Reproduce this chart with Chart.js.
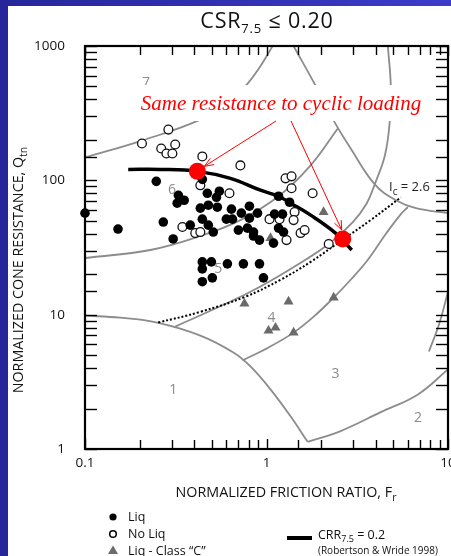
<!DOCTYPE html>
<html><head><meta charset="utf-8">
<script src="https://cdn.jsdelivr.net/npm/chart.js@4.4.1/dist/chart.umd.min.js"></script>
<style>html,body{margin:0;padding:0;background:#2f2fae;overflow:hidden}canvas{display:block}</style>
</head><body>
<canvas id="c" width="451" height="556"></canvas>
<script>
// ---------- DATA ----------
const xTickValues = [0.1, 1, 10];
const xTickLabels = ['0.1', '1', '10'];
const yTickValues = [1, 10, 100, 1000];
const yTickLabels = ['1', '10', '100', '1000'];

// Liquefaction (filled circles)
const liqFr = [0.100,0.152,0.247,0.270,0.306,0.327,0.322,0.352,0.380,0.443,0.472,0.550,0.530,0.432,0.478,0.536,0.443,0.478,0.509,0.601,0.649,0.641,0.727,0.805,0.805,0.892,0.700,0.785,0.848,0.848,0.915,1.093,1.107,1.225,1.165,1.241,1.165,1.340,0.443,0.497,0.443,0.609,0.746,0.915,0.503,0.443,0.962];
const liqQ  = [57.0,43.4,98.3,48.9,36.6,77.4,67.6,71.1,46.4,101.7,80.1,83.0,74.8,62.1,65.3,63.1,51.4,46.4,41.2,51.4,51.4,61.0,57.0,64.2,52.3,57.0,42.6,44.1,41.2,38.5,35.9,34.1,56.0,56.0,44.1,41.2,76.1,68.7,24.7,24.7,21.9,23.9,23.9,23.9,18.8,17.6,18.8];
// No liquefaction (open circles)
const noLiqFr = [0.206,0.288,0.263,0.281,0.303,0.314,0.443,0.718,0.432,0.625,1.273,1.374,1.374,1.795,1.428,1.410,1.039,1.180,0.344,0.405,0.432,1.289,1.541,1.622,2.202];
const noLiqQ  = [188,238.6,172.6,158.5,158.5,184.8,150.6,129.2,91.8,80.1,103.5,107.1,87.3,80.1,58.0,50.6,51.4,51.4,44.9,40.5,41.2,35.9,40.5,42.6,33.6];
// Liq - Class "C" (triangles)
const classCFr = [2.063,1.052,0.756,1.323,2.345,1.026,1.121,1.410];
const classCQ  = [58.0,37.2,12.1,12.5,13.4,7.6,8.0,7.35];
// Highlighted points (same resistance)
const sameResFr = [0.416, 2.63];
const sameResQ  = [116.6, 36.6];
// CRR7.5 = 0.2 curve
const crrFr = [0.173,0.260,0.416,0.633,0.927,1.165,1.357,1.75,2.40,2.95];
const crrQ  = [120.6,120.6,116.6,103.5,84.4,76.1,67.6,55.1,40.5,30.3];
// Ic = 2.6 (dotted)
const icFr = [0.253,0.432,0.765,1.195,1.75,2.66,3.75,5.50];
const icQ  = [8.73,10.5,13.6,18.2,24.7,36.6,50.6,74.8];
// Soil behaviour type boundaries
const zone1Fr = [0.1,0.156,0.250,0.432,0.657,0.816,1.052,1.357,1.685];
const zone1Q  = [9.84,9.5,8.73,6.99,5.23,4.12,2.78,1.75,1.13];
const zone2Fr = [1.685,2.56,4.26,6.83,10];
const zone2Q  = [1.13,1.36,1.88,2.55,3.91];
const zone34Fr = [0.737,1.026,1.410,1.82,2.345,2.91,3.61,4.54,5.50,6.01];
const zone34Q  = [4.56,5.70,7.35,9.67,13.4,18.2,25.5,39.8,56.0,63.1];
const zone45Fr = [0.314,0.491,0.816,1.357,2.202,2.99,3.57,3.95];
const zone45Q  = [8.15,10.7,14.8,21.9,33.6,48.9,67.6,93.3];
const zone56Fr = [0.1,0.229,0.432,0.718,1.165,1.75,2.47];
const zone56Q  = [26.4,30.3,38.5,50.6,76.1,129.2,242.9];
const zone67Fr = [0.1,0.206,0.432,0.633,0.785,0.927,1.026,1.079];
const zone67Q  = [148.1,197.8,283,391,523,711,887,1000];
const zone8Fr = [1.410,1.865,2.345,2.91,3.95,5.16,6.66,10];
const zone8Q  = [1000,506,278,172.6,93.3,71.1,62.1,57.0];
const zone89Fr = [3.95,4.49,4.78,4.84,4.66];
const zone89Q  = [93.3,153,278,506,1000];
const zone3rFr = [7.85,8.92,10];
const zone3rQ  = [5.32,8.44,14.8];
// Zone numbers
const zoneNames = ['1','2','3','4','5','6','7'];
const zoneLabelFr = [0.306,6.83,2.40,1.066,0.543,0.302,0.217];
const zoneLabelQ  = [2.75,1.71,3.59,9.5,21.9,84.4,532];

// ---------- helpers ----------
const pts = (xs, ys) => xs.map((x, i) => ({x: x, y: ys[i]}));
const FONT = '"Open Sans", "DejaVu Sans", sans-serif';
const GRAY = '#8c8c8c';
function labelFor(v, vals, labs) {
  for (let i = 0; i < vals.length; i++) if (Math.abs(Math.log10(v) - Math.log10(vals[i])) < 1e-6) return labs[i];
  return '';
}
function isDecade(v) { const l = Math.log10(v); return Math.abs(l - Math.round(l)) < 1e-6; }
function boundary(label, xs, ys) {
  return {label: label, data: pts(xs, ys), showLine: true, borderColor: GRAY, borderWidth: 1.8,
          pointRadius: 0, tension: 0.4, fill: false, order: 10};
}
function richWidth(ctx, parts) {
  let w = 0; parts.forEach(p => { ctx.font = p.size + 'px ' + (p.family || FONT); w += ctx.measureText(p.t).width; }); return w;
}
function drawRich(ctx, parts, x, y, align) {
  const w = richWidth(ctx, parts);
  let cx = align === 'center' ? x - w / 2 : (align === 'right' ? x - w : x);
  parts.forEach(p => {
    ctx.font = p.size + 'px ' + (p.family || FONT);
    ctx.fillText(p.t, cx, y + (p.dy || 0));
    cx += ctx.measureText(p.t).width;
  });
}
function line(ctx, x1, y1, x2, y2) { ctx.beginPath(); ctx.moveTo(x1, y1); ctx.lineTo(x2, y2); ctx.stroke(); }
function arrow(ctx, x1, y1, x2, y2) {
  line(ctx, x1, y1, x2, y2);
  const ang = Math.atan2(y2 - y1, x2 - x1), L = 10, s = 0.38;
  line(ctx, x2, y2, x2 - L * Math.cos(ang - s), y2 - L * Math.sin(ang - s));
  line(ctx, x2, y2, x2 - L * Math.cos(ang + s), y2 - L * Math.sin(ang + s));
}
const noPad = () => ({left: 0, top: 0, right: 0, bottom: 0});

const decor = {
  id: 'decor',
  beforeDraw(chart) {
    const ctx = chart.ctx, W = chart.width, H = chart.height;
    ctx.save();
    const g = ctx.createLinearGradient(0, 0, W, 0);
    g.addColorStop(0, '#26269a'); g.addColorStop(1, '#3c3cc9');
    ctx.fillStyle = g; ctx.fillRect(0, 0, W, H);
    ctx.fillStyle = '#ffffff'; ctx.fillRect(8, 6, W - 8, H - 6);
    ctx.restore();
  },
  beforeDatasetsDraw(chart) {
    const ctx = chart.ctx, xs = chart.scales.x, ys = chart.scales.y;
    ctx.save();
    ctx.fillStyle = GRAY; ctx.textAlign = 'center'; ctx.textBaseline = 'middle';
    ctx.font = '14px ' + FONT;
    zoneNames.forEach((n, i) => ctx.fillText(n, xs.getPixelForValue(zoneLabelFr[i]), ys.getPixelForValue(zoneLabelQ[i])));
    ctx.restore();
  },
  afterDatasetsDraw(chart) {
    const ctx = chart.ctx, xs = chart.scales.x, ys = chart.scales.y;
    ctx.save();
    ctx.fillStyle = '#ffffff'; ctx.fillRect(137, 85, 286, 36);
    ctx.fillStyle = '#ff0000'; ctx.textAlign = 'center'; ctx.textBaseline = 'alphabetic';
    ctx.font = 'italic 21px "Liberation Serif", "DejaVu Serif", serif';
    ctx.fillText('Same resistance to cyclic loading', 281, 110);
    ctx.strokeStyle = '#ff0000'; ctx.lineWidth = 1;
    const p1x = xs.getPixelForValue(sameResFr[0]), p1y = ys.getPixelForValue(sameResQ[0]);
    const p2x = xs.getPixelForValue(sameResFr[1]), p2y = ys.getPixelForValue(sameResQ[1]);
    arrow(ctx, 276, 121, p1x + 7, p1y - 5);
    arrow(ctx, 291, 121, p2x - 1, p2y - 9);
    ctx.fillStyle = '#222'; ctx.textAlign = 'left'; ctx.textBaseline = 'alphabetic';
    drawRich(ctx, [{t: 'I', size: 13}, {t: 'c', size: 10, dy: 4}, {t: ' = 2.6', size: 13}], 389, 191, 'left');
    ctx.restore();
  },
  afterDraw(chart) {
    const ctx = chart.ctx, xs = chart.scales.x, ys = chart.scales.y, a = chart.chartArea;
    ctx.save();
    ctx.strokeStyle = '#000'; ctx.lineWidth = 1.4;
    xs.ticks.forEach(t => {
      const px = Math.round(xs.getPixelForValue(t.value)) + 0.5;
      const len = isDecade(t.value) ? 10 : 9;
      line(ctx, px, a.bottom, px, a.bottom - len);
      line(ctx, px, a.top, px, a.top + len);
    });
    ys.ticks.forEach(t => {
      const py = Math.round(ys.getPixelForValue(t.value)) + 0.5;
      line(ctx, a.left, py, a.left + 12, py);
      line(ctx, a.right, py, a.right - 12, py);
    });
    ctx.lineWidth = 2.2;
    ctx.strokeRect(a.left, a.top, a.right - a.left, a.bottom - a.top);

    ctx.fillStyle = '#111'; ctx.textBaseline = 'alphabetic';
    ctx.letterSpacing = '0.8px';
    drawRich(ctx, [{t: 'CSR', size: 21.5}, {t: '7.5', size: 13, dy: 5}, {t: ' \u2264 0.20', size: 21.5}], 267, 28, 'center');
    ctx.letterSpacing = '0px';
    drawRich(ctx, [{t: 'NORMALIZED FRICTION RATIO, F', size: 14.3}, {t: 'r', size: 10.5, dy: 4}], 286, 497, 'center');
    ctx.save();
    ctx.translate(23, 270); ctx.rotate(-Math.PI / 2);
    drawRich(ctx, [{t: 'NORMALIZED CONE RESISTANCE, Q', size: 14.3}, {t: 'tn', size: 10.5, dy: 4}], 0, 0, 'center');
    ctx.restore();

    ctx.fillStyle = '#000';
    ctx.beginPath(); ctx.arc(113, 517, 3.6, 0, Math.PI * 2); ctx.fill();
    ctx.lineWidth = 1.5; ctx.beginPath(); ctx.arc(113, 534, 3.3, 0, Math.PI * 2); ctx.stroke();
    ctx.fillStyle = '#6b6b6b';
    ctx.beginPath(); ctx.moveTo(113, 545.5); ctx.lineTo(118, 554); ctx.lineTo(108, 554); ctx.closePath(); ctx.fill();
    ctx.fillStyle = '#111'; ctx.textBaseline = 'middle';
    drawRich(ctx, [{t: 'Liq', size: 12.5}], 128, 517, 'left');
    drawRich(ctx, [{t: 'No Liq', size: 12.5}], 128, 534, 'left');
    drawRich(ctx, [{t: 'Liq - Class \u201CC\u201D', size: 12.5}], 128, 551, 'left');
    ctx.strokeStyle = '#000'; ctx.lineWidth = 4;
    line(ctx, 287, 538, 312, 538);
    drawRich(ctx, [{t: 'CRR', size: 12.5}, {t: '7.5', size: 9, dy: 4}, {t: ' = 0.2', size: 12.5}], 318, 535, 'left');
    drawRich(ctx, [{t: '(Robertson & Wride 1998)', size: 10}], 318, 551, 'left');
    ctx.restore();
  }
};

new Chart(document.getElementById('c'), {
  type: 'scatter',
  data: {
    datasets: [
      {label: 'Same resistance', data: pts(sameResFr, sameResQ), pointRadius: 8.5, pointHoverRadius: 8.5,
       backgroundColor: '#ff0000', borderColor: '#ff0000', borderWidth: 0, order: 0},
      {label: 'Liq', data: pts(liqFr, liqQ), pointRadius: 4.8, backgroundColor: '#000', borderColor: '#000',
       borderWidth: 0, order: 1, clip: 8},
      {label: 'No Liq', data: pts(noLiqFr, noLiqQ), pointRadius: 4.4, backgroundColor: '#fff', borderColor: '#111',
       borderWidth: 1.3, order: 2},
      {label: 'Liq - Class "C"', data: pts(classCFr, classCQ), pointStyle: 'triangle', pointRadius: 5.8,
       backgroundColor: '#6b6b6b', borderColor: '#6b6b6b', borderWidth: 0, order: 3},
      {label: 'CRR7.5 = 0.2', data: pts(crrFr, crrQ), showLine: true, borderColor: '#000', borderWidth: 3.5,
       pointRadius: 0, tension: 0.4, order: 4},
      {label: 'Ic = 2.6', data: pts(icFr, icQ), showLine: true, borderColor: '#000', borderWidth: 2,
       borderDash: [2, 2], pointRadius: 0, tension: 0.4, order: 5},
      boundary('zone 1', zone1Fr, zone1Q),
      boundary('zone 2', zone2Fr, zone2Q),
      boundary('zone 3/4', zone34Fr, zone34Q),
      boundary('zone 4/5', zone45Fr, zone45Q),
      boundary('zone 5/6', zone56Fr, zone56Q),
      boundary('zone 6/7', zone67Fr, zone67Q),
      boundary('zone 8', zone8Fr, zone8Q),
      boundary('zone 8/9', zone89Fr, zone89Q),
      boundary('zone 3 right', zone3rFr, zone3rQ)
    ]
  },
  options: {
    responsive: false, animation: false, devicePixelRatio: 1,
    layout: {autoPadding: false, padding: {top: 46, right: 3, left: 0, bottom: 0}},
    plugins: {legend: {display: false}, tooltip: {enabled: false}, title: {display: false}},
    scales: {
      x: {type: 'logarithmic', min: 0.1, max: 10, position: 'bottom',
          grid: {display: false, drawTicks: false}, border: {display: false},
          ticks: {autoSkip: false, maxRotation: 0, padding: 6, color: '#111', font: {family: FONT, size: 13.5},
                  callback: (v) => labelFor(v, xTickValues, xTickLabels)},
          afterFit: (s) => { s.height = 107; s.paddingRight = 0; s.paddingLeft = 0; s.getPadding = noPad; }},
      y: {type: 'logarithmic', min: 1, max: 1000, position: 'left',
          grid: {display: false, drawTicks: false}, border: {display: false},
          ticks: {autoSkip: false, padding: 20, color: '#111', font: {family: FONT, size: 13.5},
                  callback: (v) => labelFor(v, yTickValues, yTickLabels)},
          afterFit: (s) => { s.width = 85; }}
    }
  },
  plugins: [decor]
});
</script>
</body></html>
